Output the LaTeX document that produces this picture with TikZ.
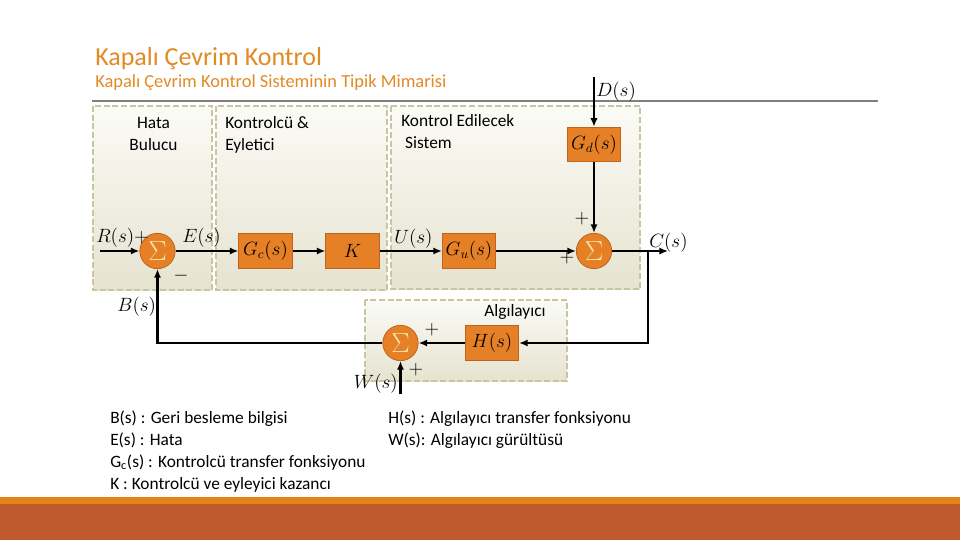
\documentclass[tikz,border=0pt]{standalone}
\usepackage{fontspec}
\setmainfont{Carlito}
\usepackage{amsmath}
\usetikzlibrary{arrows.meta,calc}
\definecolor{blk_orange}{RGB}{230,128,38}
\definecolor{blk_edge}{RGB}{190,100,30}
\definecolor{sig_col}{RGB}{250,226,165}
\definecolor{grp_top}{RGB}{251,251,246}
\definecolor{grp_bot}{RGB}{230,227,208}
\definecolor{grp_edge}{RGB}{200,197,160}
\definecolor{ttl_orange}{RGB}{226,138,36}
\definecolor{bar_orange}{RGB}{226,132,26}
\definecolor{bar_red}{RGB}{190,90,45}
\definecolor{rule_gray}{RGB}{128,128,128}
\tikzstyle{blk}=[rectangle,fill=blk_orange,draw=blk_edge,line width=0.6pt,
  minimum width=40pt,minimum height=26pt,inner sep=0pt,font=\fontsize{14.5}{16}\selectfont]
\tikzstyle{sm}=[circle,fill=blk_orange,draw=blk_edge,line width=0.6pt,
  minimum size=26.5pt,inner sep=0pt,text=sig_col,font=\fontsize{21}{21}\selectfont]
\tikzstyle{grp}=[draw=grp_edge,dash pattern=on 4.5pt off 2pt,line width=1.3pt,
  top color=grp_top,bottom color=grp_bot]
\tikzstyle{lbl}=[inner sep=0pt,font=\fontsize{15}{17}\selectfont]
\tikzstyle{txt}=[inner sep=0pt,font=\fontsize{13}{16.3}\selectfont]
\tikzstyle{sig}=[line width=2.2pt,-{Latex[length=6.5pt,width=5.5pt]}]

\begin{document}
\begin{tikzpicture}[x=0.75pt,y=-0.75pt]
        \useasboundingbox (0,0) rectangle (960,540);
        \fill[white] (0,0) rectangle (960,540);
        \node[anchor=base west,inner sep=0pt,text=ttl_orange,font=\fontsize{19.5}{20}\selectfont] (ttl) at (95,65) {Kapalı Çevrim Kontrol};
        \node[anchor=base west,inner sep=0pt,text=ttl_orange,font=\fontsize{13.8}{15}\selectfont] (sub) at (95,87) {Kapalı Çevrim Kontrol Sisteminin Tipik Mimarisi};
        \draw[grp] (93,106) rectangle (212,290);
        \draw[grp] (216,106) rectangle (387,290);
        \draw[grp] (391,106) rectangle (640,289);
        \draw[grp] (365,300) rectangle (567,381);
        \draw[rule_gray,line width=1.1pt] (92,101) -- (878,101);
        \node[txt,align=center,anchor=north] (hb) at (153.5,117) {Hata\\Bulucu};
        \node[txt,align=left,anchor=north west] (ke) at (225,116) {Kontrolcü \&\\Eyletici};
        \node[txt,align=left,anchor=north west] (se) at (401,114) {Kontrol Edilecek\\\ Sistem};
        \node[txt,anchor=base] (al) at (515,316) {Algılayıcı};
        \node[sm] (1) at (157.5,251) {$\Sigma$};
        \node[blk] (2) at (265.5,251) {$G_c(s)$};
        \node[blk] (3) at (352.5,251) {$K$};
        \node[blk] (4) at (469,251) {$G_u(s)$};
        \node[blk] (5) at (594,144.5) {$G_d(s)$};
        \node[sm] (6) at (594,251) {$\Sigma$};
        \node[blk] (7) at (492,343) {$H(s)$};
        \node[sm] (8) at (400.5,343) {$\Sigma$};
        \coordinate (end1) at (100,251);
        \coordinate (end2) at (594,77);
        \coordinate (end3) at (668,251);
        \coordinate (br) at (648,251);
        \coordinate (end4) at (400.5,394);
        \node[lbl,anchor=base west] (rl) at (96,242) {$R(s){+}$};
        \node[lbl,anchor=base west] (el) at (182,242) {$E(s)$};
        \node[lbl] (ml) at (181,276) {$-$};
        \node[lbl,anchor=base west] (ul) at (394,243) {$U(s)$};
        \node[lbl,anchor=base west] (dl) at (596,96) {$D(s)$};
        \node[lbl,anchor=base west] (cl) at (649,247) {$C(s)$};
        \node[lbl,anchor=base west] (bl) at (117,311) {$B(s)$};
        \node[lbl,anchor=base east] (wl) at (398,388) {$W(s)$};
        \node[lbl] (p1) at (582,219) {$+$};
        \node[lbl] (p2) at (567,258) {$+$};
        \node[lbl] (p3) at (432,330) {$+$};
        \node[lbl] (p4) at (416,370) {$+$};
        \draw[sig] (end1) -- (1);
        \draw[sig] (1) -- (2);
        \draw[sig] (2) -- (3);
        \draw[sig] (3) -- (4);
        \draw[sig] (4) -- (6);
        \draw[sig] (end2) -- (5);
        \draw[sig] (5) -- (6);
        \draw[sig] (6) -- (end3);
        \draw[sig] (br) |- (7);
        \draw[sig] (7) -- (8);
        \draw[sig] (end4) -- (8);
        \draw[sig] (8) -| (1);
        % legend, anchored on the last line
        \node[txt,align=left,anchor=base west] (leg1) at (110,489) {B(s) : Geri besleme bilgisi\\E(s) : Hata\\G\textsubscript{c}(s) : Kontrolcü transfer fonksiyonu\\K : Kontrolcü ve eyleyici kazancı};
        \node[txt,align=left,anchor=base west] (leg2) at (388,445.5) {H(s) : Algılayıcı transfer fonksiyonu\\W(s): Algılayıcı gürültüsü};
        \fill[bar_orange] (0,497) rectangle (960,504);
        \fill[bar_red] (0,504) rectangle (960,540);
    \end{tikzpicture}
\end{document}
